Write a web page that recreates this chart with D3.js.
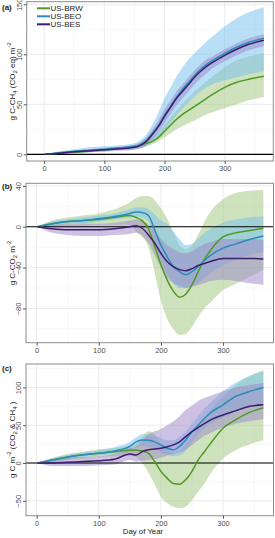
<!DOCTYPE html>
<html>
<head>
<meta charset="utf-8">
<script src="https://cdn.jsdelivr.net/npm/d3@7"></script>
<style>
body { margin: 0; background: #fff; }
text { font-family: "Liberation Sans", Arial, sans-serif; }
</style>
</head>
<body>
<div id="chart"></div>
<script>
// day of year sample points
const days = [1, 25, 50, 75, 100, 125, 150, 160, 170, 180, 190, 200, 210, 220, 230, 240, 250, 260, 270, 280, 300, 320, 340, 365]
const sites = ["US-BRW", "US-BEO", "US-BES"]

// (a) cumulative CH4 (CO2 eq)
const ch4BRW   = [0, 1, 2, 3, 4.5, 6, 7.5, 9, 11, 13, 17, 23, 29, 35, 40, 44, 48, 52, 56, 60, 67, 72, 75, 78]
const ch4BRWlo = [0, 0.5, 1.5, 2.5, 3.5, 4.5, 5.5, 6.5, 8, 10, 13, 17, 21, 25, 28, 31, 34, 37, 40, 42, 46, 50, 54, 57]
const ch4BRWhi = [0, 1.5, 2.5, 4, 5.5, 7, 9, 11, 14, 17, 22, 29, 37, 44, 51, 57, 63, 68, 73, 78, 87, 94, 98, 101]
const ch4BEO   = [0, 1.5, 3, 4, 5, 6.5, 8, 10, 14, 21, 29, 39, 48, 57, 65, 72, 79, 85, 90, 94, 101, 107, 112, 116]
const ch4BEOlo = [0, 0.5, 1.5, 2, 3, 4, 5, 6, 8, 12, 17, 24, 31, 39, 46, 52, 58, 63, 67, 70, 74, 77, 80, 83]
const ch4BEOhi = [0, 3, 5, 7, 8, 9, 11, 14, 20, 30, 42, 56, 67, 78, 87, 95, 101, 107, 113, 118, 128, 136, 142, 147]
const ch4BES   = [0, 1, 2.5, 3.5, 4.5, 5.5, 7, 9, 13, 20, 28, 38, 47, 56, 63, 70, 77, 83, 88, 92, 99, 105, 110, 114]
const ch4BESlo = [0, 0.5, 1.5, 2, 2.5, 3.5, 4.5, 6, 9, 15, 22, 31, 40, 49, 56, 63, 70, 76, 81, 86, 93, 99, 104, 108]
const ch4BEShi = [0, 1.5, 3.5, 5, 6.5, 7.5, 9.5, 12, 17, 25, 34, 45, 54, 63, 70, 77, 84, 90, 95, 98, 105, 111, 116, 120]

// (b) cumulative CO2
const co2BRW   = [0, 3, 5, 6, 7, 9, 11, 9, 6, -2, -19, -37, -52, -63, -69, -66, -57, -44, -32, -23, -10, -6, -4, -1.5]
const co2BRWlo = [0, 0, 1, 1, 2, 2, 2, -5, -10, -20, -45, -72, -90, -100, -106, -105, -98, -88, -80, -74, -62, -56, -50, -42]
const co2BRWhi = [0, 6, 9, 11, 13, 17, 24, 28, 30, 30, 26, 18, 8, -5, -18, -22, -18, -8, 5, 15, 27, 33, 35, 36]
const co2BEO   = [0, 3, 5, 6, 8, 10, 13, 14.5, 14, 11, -3, -18, -29, -39, -44, -47, -44, -39, -33, -28, -21, -17, -13, -9]
const co2BEOlo = [0, 1, 3, 3, 5, 7, 9, 10, 9, 5, -15, -32, -45, -55, -60, -60, -58, -55, -50, -45, -38, -32, -28, -25]
const co2BEOhi = [0, 5, 7, 9, 11, 13, 17, 19, 19, 17, 12, 6, 3, -5, -12, -18, -17, -12, -6, -2, 4, 7, 9, 10]
const co2BES   = [0, -2, -3, -3, -3, -2, 0, 1, -1.5, -8, -16, -26, -34, -39, -42, -43, -41, -38, -36, -34, -31, -31, -31, -31.5]
const co2BESlo = [0, -6, -8, -9, -9, -8, -7, -6, -9, -16, -28, -40, -50, -55, -58, -60, -59, -57, -55, -53, -52, -53, -55, -57]
const co2BEShi = [0, 2, 3, 3, 3, 4, 6, 7, 6, 2, -4, -12, -18, -22, -25, -26, -24, -20, -17, -15, -12, -12, -12, -13]

// (c) combined CO2 & CH4
const netBRW   = [0, 4, 8, 11, 13, 15, 17, 17, 16, 13, 2, -11, -20, -27, -28, -22, -11, 4, 15, 26, 46, 57, 66, 73]
const netBRWlo = [0, 1, 4, 6, 8, 9, 10, 8, 0, -13, -28, -45, -53, -58, -60, -58, -49, -38, -27, -14, 6, 17, 24, 30]
const netBRWhi = [0, 7, 12, 15, 18, 20, 23, 26, 35, 42, 38, 25, 18, 14, 15, 25, 35, 50, 60, 70, 88, 103, 114, 123]
const netBEO   = [0, 4, 8, 11, 13, 16, 22, 28, 30.5, 30, 28, 24, 19.5, 17.5, 22, 30.5, 41.5, 50, 59, 66.5, 77, 88, 94, 100]
const netBEOlo = [0, 2, 5, 8, 10, 12, 16, 21, 23, 21, 19, 14, 11, 9, 10, 16, 28, 38, 46, 52, 60, 68, 74, 79]
const netBEOhi = [0, 6, 11, 14, 17, 21, 28, 34, 38, 38, 36, 33, 30, 30, 35, 42, 52, 62, 72, 80, 95, 106, 114, 121]
const netBES   = [0, 0, 1, 2, 3, 5, 12, 10.5, 15, 17.5, 18.5, 19.5, 21.5, 24, 28, 35, 41.5, 47, 52, 57, 63.5, 69, 74.5, 77]
const netBESlo = [0, -4, -4, -4, -3, -2, 4, 2, 3, 4, 5, 7, 10, 12, 14, 18, 24, 30, 36, 40, 47, 52, 55, 58]
const netBEShi = [0, 4, 7, 8, 9, 12, 20, 22, 30, 38, 42, 45, 50, 55, 62, 70, 76, 82, 86, 89, 95, 100, 103, 106]

const xTicks = [0, 100, 200, 300]
const xMinor = [50, 150, 250, 350]

const lineColor = {"US-BRW": "#4e9a22", "US-BEO": "#2a8cba", "US-BES": "#3d1d6e"}
const bandColor = {"US-BRW": "#9dc57c", "US-BEO": "#73c0f0", "US-BES": "#9b86c8"}

const panels = [
    {tag: "(a)", tagY: 10, left: 26.7, right: 273.3, xdom: [-29, 380.7], top: 1.7, bottom: 161, ydom: [-6.7, 152.6],
     yTicks: [0, 50, 100, 150], yMinor: [25, 75, 125], xLabY: 170,
     title: [["g C-CH", ""], ["4", "sub"], [" (CO", ""], ["2", "sub"], [" eq) m", ""], ["-2", "sup"]],
     series: [[ch4BRW, ch4BRWlo, ch4BRWhi], [ch4BEO, ch4BEOlo, ch4BEOhi], [ch4BES, ch4BESlo, ch4BEShi]]},
    {tag: "(b)", tagY: 189, left: 26, right: 273.5, xdom: [-17.2, 381.3], top: 183.3, bottom: 342.7, ydom: [-113.5, 42.5],
     yTicks: [-80, -40, 0, 40], yMinor: [-100, -60, -20, 20], xLabY: 351,
     title: [["g C-CO", ""], ["2", "sub"], [" m", ""], ["-2", "sup"]],
     series: [[co2BRW, co2BRWlo, co2BRWhi], [co2BEO, co2BEOlo, co2BEOhi], [co2BES, co2BESlo, co2BEShi]]},
    {tag: "(c)", tagY: 371, left: 26, right: 273.5, xdom: [-17.2, 381.3], top: 364, bottom: 515.7, ydom: [-69.7, 131],
     yTicks: [-50, 0, 50, 100], yMinor: [-25, 25, 75, 125], xLabY: 524,
     title: [["g C m", ""], ["-2", "sup"], [" (CO", ""], ["2", "sub"], [" & CH", ""], ["4", "sub"], [" )", ""]],
     series: [[netBRW, netBRWlo, netBRWhi], [netBEO, netBEOlo, netBEOhi], [netBES, netBESlo, netBEShi]]}
]

const svg = d3.select("#chart").append("svg")
    .attr("width", 275).attr("height", 538)

panels.forEach(function(p) {
    const x = d3.scaleLinear().domain(p.xdom).range([p.left, p.right])
    const y = d3.scaleLinear().domain(p.ydom).range([p.bottom, p.top])
    const g = svg.append("g")

    // grid
    g.selectAll(".ym").data(p.yMinor.filter(v => v > p.ydom[0] && v < p.ydom[1])).join("line")
        .attr("x1", p.left).attr("x2", p.right).attr("y1", d => y(d)).attr("y2", d => y(d))
        .attr("stroke", "#f2f2f2").attr("stroke-width", 0.6)
    g.selectAll(".xm").data(xMinor).join("line")
        .attr("y1", p.top).attr("y2", p.bottom).attr("x1", d => x(d)).attr("x2", d => x(d))
        .attr("stroke", "#f2f2f2").attr("stroke-width", 0.6)
    g.selectAll(".yg").data(p.yTicks).join("line")
        .attr("x1", p.left).attr("x2", p.right).attr("y1", d => y(d)).attr("y2", d => y(d))
        .attr("stroke", "#ebebeb").attr("stroke-width", 1)
    g.selectAll(".xg").data(xTicks).join("line")
        .attr("y1", p.top).attr("y2", p.bottom).attr("x1", d => x(d)).attr("x2", d => x(d))
        .attr("stroke", "#ebebeb").attr("stroke-width", 1)

    // ribbons
    p.series.forEach(function(s, i) {
        const rows = days.map((d, k) => ({day: d, lo: s[1][k], hi: s[2][k]}))
        g.append("path").datum(rows)
            .attr("fill", bandColor[sites[i]]).attr("fill-opacity", 0.5)
            .attr("d", d3.area().curve(d3.curveMonotoneX)
                .x(d => x(d.day)).y0(d => y(d.lo)).y1(d => y(d.hi)))
    })

    // zero line
    g.append("line").attr("x1", p.left).attr("x2", p.right)
        .attr("y1", y(0)).attr("y2", y(0)).attr("stroke", "#000").attr("stroke-width", 1.2)

    // mean lines
    p.series.forEach(function(s, i) {
        const rows = days.map((d, k) => ({day: d, v: s[0][k]}))
        g.append("path").datum(rows)
            .attr("fill", "none").attr("stroke", lineColor[sites[i]]).attr("stroke-width", 1.5)
            .attr("d", d3.line().curve(d3.curveMonotoneX).x(d => x(d.day)).y(d => y(d.v)))
    })

    // border
    g.append("rect").attr("x", p.left).attr("y", p.top)
        .attr("width", p.right - p.left).attr("height", p.bottom - p.top)
        .attr("fill", "none").attr("stroke", "#8c8c8c").attr("stroke-width", 1)

    // x axis
    const xa = g.append("g").attr("transform", `translate(0,${p.bottom})`)
        .call(d3.axisBottom(x).tickValues(xTicks).tickSize(3).tickPadding(2))
    xa.select(".domain").remove()
    xa.selectAll("line").attr("stroke", "#555")
    xa.selectAll("text").attr("fill", "#4d4d4d").style("font-size", "7.5px")
        .style("font-family", "Liberation Sans, Arial, sans-serif")

    // y axis with rotated labels
    const ya = g.append("g").attr("transform", `translate(${p.left},0)`)
        .call(d3.axisLeft(y).tickValues(p.yTicks).tickSize(3).tickFormat(d3.format("d")))
    ya.select(".domain").remove()
    ya.selectAll("line").attr("stroke", "#555")
    ya.selectAll("text").attr("fill", "#4d4d4d").style("font-size", "7.5px")
        .style("font-family", "Liberation Sans, Arial, sans-serif")
        .attr("x", null).attr("dy", null)
        .attr("text-anchor", "middle")
        .attr("transform", "translate(-5,0) rotate(-90)")

    // y title
    const t = g.append("text")
        .attr("transform", `translate(14.5,${(p.top + p.bottom) / 2}) rotate(-90)`)
        .attr("text-anchor", "middle").attr("fill", "#1a1a1a").style("font-size", "8px")
    let shift = 0
    p.title.forEach(function(part) {
        const ts = t.append("tspan").text(part[0])
        let target = 0
        if (part[1] === "sub") { target = 2.2; ts.style("font-size", "6px") }
        if (part[1] === "sup") { target = -3.2; ts.style("font-size", "6px") }
        ts.attr("dy", target - shift)
        shift = target
    })

    // panel tag
    svg.append("text").attr("x", 2).attr("y", p.tagY).text(p.tag)
        .attr("font-weight", "bold").style("font-size", "8px").attr("fill", "#1a1a1a")
})

// legend in panel (a)
const lg = svg.append("g")
sites.forEach(function(s, i) {
    const ly = 8.3 + i * 8
    lg.append("line").attr("x1", 37).attr("x2", 50).attr("y1", ly).attr("y2", ly)
        .attr("stroke", lineColor[s]).attr("stroke-width", 2)
    lg.append("text").attr("x", 50.5).attr("y", ly + 2.8).text(s)
        .style("font-size", "8px").attr("fill", "#1a1a1a")
})

svg.append("text").attr("x", 143).attr("y", 534).attr("text-anchor", "middle")
    .text("Day of Year").style("font-size", "7.8px").attr("fill", "#1a1a1a")
</script>
</body>
</html>
